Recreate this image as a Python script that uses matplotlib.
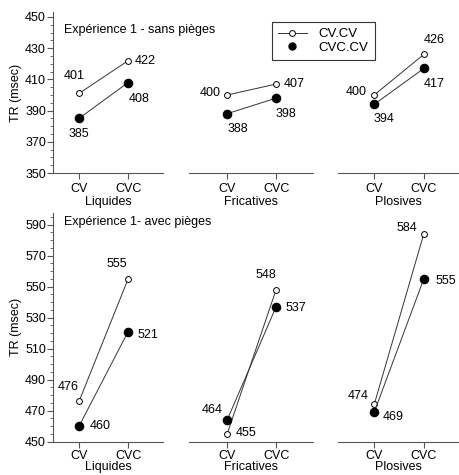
import matplotlib
matplotlib.use("Agg")
import matplotlib.pyplot as plt
from matplotlib.lines import Line2D
from matplotlib.ticker import MultipleLocator

plt.rcParams['font.family'] = ['Liberation Sans', 'DejaVu Sans']

conditions = ["CV", "CVC"]
categories = ["Liquides", "Fricatives", "Plosives"]

# Expérience 1 - sans pièges
top_cvcv = [[401, 422], [400, 407], [400, 426]]
top_cvccv = [[385, 408], [388, 398], [394, 417]]
# Expérience 1 - avec pièges
bot_cvcv = [[476, 555], [455, 548], [474, 584]]
bot_cvccv = [[460, 521], [464, 537], [469, 555]]

top_title = "Expérience 1 - sans pièges"
bot_title = "Expérience 1- avec pièges"
ylabel = "TR (msec)"
legend_labels = ["CV.CV", "CVC.CV"]

# label offsets in pixels (dx, dy) for [cat][cond]
top_off_open = [[(-5, 17), (17, 0)], [(-17, 2), (18, 0)], [(-18, 3), (10, 14)]]
top_off_fill = [[(0, -16), (11, -16)], [(11, -15), (10, -16)], [(10, -15), (10, -16)]]
bot_off_open = [[(-11, 14), (-11, 15)], [(19, 1), (-10, 15)], [(-16, 8), (-17, 6)]]
bot_off_fill = [[(21, 0), (20, -3)], [(-15, 10), (20, -1)], [(19, -5), (22, -2)]]

W, H = 459, 475
fig = plt.figure(figsize=(W / 100, H / 100), dpi=100)

# panel pixel extents (left, right) and xlim
panels_x = [(53, 163, (-0.53, 1.71)), (189, 313, (-0.78, 1.755)), (338, 459, (-0.73, 1.71))]
rows = [
    # (top px, bottom px, ylim, ticks range, title y px, tick pad, label pad)
    (12, 173, (350, 453.2), (350, 450), 30, 3, 1),
    (213, 441.7, (450, 597.5), (450, 590), 222, 2, -1),
]

LINEC = '#333333'
SPINEC = '#555555'
FS = 9


def draw_row(row, open_vals, fill_vals, off_open, off_fill, title):
    top, bot, ylim, (t0, t1), ty, tpad, lpad = rows[row]
    for i, (l, r, xl) in enumerate(panels_x):
        ax = fig.add_axes([l / W, 1 - bot / H, (r - l) / W, (bot - top) / H])
        ax.set_xlim(*xl)
        ax.set_ylim(*ylim)
        ax.patch.set_alpha(0)
        for s in ['top', 'right']:
            ax.spines[s].set_visible(False)
        ax.spines['bottom'].set_color(SPINEC)
        ax.spines['bottom'].set_linewidth(0.8)
        ax.set_xticks([0, 1])
        ax.set_xticklabels(conditions, fontsize=FS)
        ax.tick_params(axis='x', length=4, width=0.8, color=SPINEC, pad=tpad)
        ax.set_xlabel(categories[i], fontsize=FS, labelpad=lpad)
        if i == 0:
            ax.spines['left'].set_color(SPINEC)
            ax.spines['left'].set_linewidth(0.8)
            ax.set_yticks(list(range(t0, t1 + 1, 20)))
            ax.yaxis.set_minor_locator(MultipleLocator(5))
            ax.tick_params(axis='y', which='major', length=4, width=0.8, color=SPINEC, pad=1, labelsize=FS)
            ax.tick_params(axis='y', which='minor', length=2, width=0.6, color=SPINEC)
            ax.set_ylabel(ylabel, fontsize=FS, labelpad=2)
            fig.text(64 / W, 1 - ty / H, title, fontsize=FS, ha='left', va='center')
        else:
            ax.spines['left'].set_visible(False)
            ax.set_yticks([])
        ax.plot([0, 1], open_vals[i], '-', color=LINEC, lw=0.7, marker='o', ms=4.2,
                mfc='white', mec='black', mew=0.7, zorder=3)
        ax.plot([0, 1], fill_vals[i], '-', color=LINEC, lw=0.7, marker='o', ms=5.9,
                mfc='black', mec='black', zorder=3)
        for j in range(2):
            ax.annotate(str(open_vals[i][j]), (j, open_vals[i][j]), xytext=off_open[i][j],
                        textcoords='offset pixels', ha='center', va='center', fontsize=FS)
            ax.annotate(str(fill_vals[i][j]), (j, fill_vals[i][j]), xytext=off_fill[i][j],
                        textcoords='offset pixels', ha='center', va='center', fontsize=FS)


draw_row(0, top_cvcv, top_cvccv, top_off_open, top_off_fill, top_title)
draw_row(1, bot_cvcv, bot_cvccv, bot_off_open, bot_off_fill, bot_title)

handles = [
    Line2D([], [], color=LINEC, lw=0.7, marker='o', ms=4.2, mfc='white', mec='black', mew=0.7),
    Line2D([], [], ls='none', marker='o', ms=5.0, mfc='black', mec='black'),
]
leg = fig.legend(handles, legend_labels, loc='upper left',
                 bbox_to_anchor=(272 / W, 1 - 22 / H), fontsize=9.5, frameon=True,
                 fancybox=False, borderpad=0.45, handlelength=2.2, handletextpad=0.9,
                 labelspacing=0.1, borderaxespad=0)
leg.get_frame().set_edgecolor('black')
leg.get_frame().set_linewidth(0.8)

fig.savefig("out.png", dpi=100)
